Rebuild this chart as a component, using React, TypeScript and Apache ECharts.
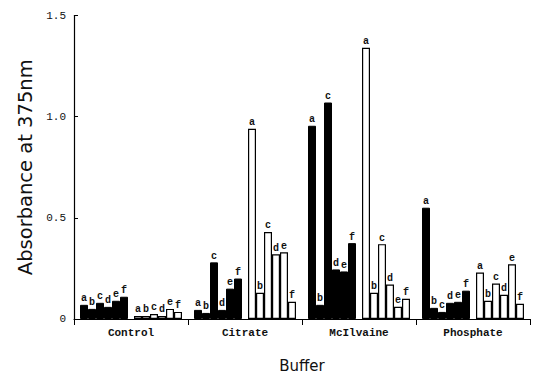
import React, { useEffect, useRef } from "react";
import * as echarts from "echarts";

// Buffers along the x axis and the sample letters a–f inside each buffer
const buffers = ["Control", "Citrate", "McIlvaine", "Phosphate"];
const letters = ["a", "b", "c", "d", "e", "f"];

// Solid (filled) bars, letters a–f
const controlSolid = [0.07, 0.05, 0.08, 0.06, 0.09, 0.11];
const citrateSolid = [0.045, 0.03, 0.28, 0.045, 0.15, 0.2];
const mcilvaineSolid = [0.955, 0.07, 1.07, 0.245, 0.235, 0.375];
const phosphateSolid = [0.55, 0.055, 0.035, 0.08, 0.085, 0.14];

// Open (unfilled) bars, letters a–f
const controlOpen = [0.015, 0.015, 0.025, 0.015, 0.05, 0.035];
const citrateOpen = [0.94, 0.13, 0.43, 0.32, 0.33, 0.085];
const mcilvaineOpen = [1.34, 0.13, 0.37, 0.17, 0.06, 0.1];
const phosphateOpen = [0.23, 0.09, 0.175, 0.12, 0.27, 0.075];

const yTicks = [0, 0.5, 1.0, 1.5];

const solidByBuffer = [controlSolid, citrateSolid, mcilvaineSolid, phosphateSolid];
const openByBuffer = [controlOpen, citrateOpen, mcilvaineOpen, phosphateOpen];

const MONO = "'Liberation Mono', 'DejaVu Sans Mono', monospace";
const SANS = "'DejaVu Sans', 'Open Sans', sans-serif";

function letterLabel(letter: string) {
  return {
    show: true,
    position: "top" as const,
    distance: 1,
    formatter: letter,
    color: "#111",
    fontFamily: MONO,
    fontWeight: "bold" as const,
    fontSize: 10,
  };
}

export default function App() {
  const ref = useRef<HTMLDivElement>(null);

  useEffect(() => {
    if (!ref.current) return;
    const chart = echarts.init(ref.current, undefined, { renderer: "svg" });

    const solidSeries = letters.map((letter, i) => ({
      name: `${letter} solid`,
      type: "bar" as const,
      barWidth: 8,
      barGap: "0%",
      data: solidByBuffer.map((arr) => arr[i]),
      itemStyle: { color: "#000", borderColor: "#000", borderWidth: 1 },
      label: letterLabel(letter),
    }));

    // empty slot separating the solid and open sets within a buffer
    const spacer = {
      name: "spacer",
      type: "bar" as const,
      barWidth: 6,
      barGap: "0%",
      data: buffers.map(() => "-"),
      silent: true,
    };

    const openSeries = letters.map((letter, i) => ({
      name: `${letter} open`,
      type: "bar" as const,
      barWidth: 8,
      barGap: "0%",
      data: openByBuffer.map((arr) => arr[i]),
      itemStyle: { color: "#fff", borderColor: "#000", borderWidth: 1.2 },
      label: letterLabel(letter),
    }));

    chart.setOption({
      animation: false,
      backgroundColor: "#fff",
      grid: { left: 74, right: 3, top: 15.5, bottom: 58, outerBoundsMode: "none" },
      xAxis: {
        type: "category",
        data: buffers,
        boundaryGap: true,
        name: "Buffer",
        nameLocation: "middle",
        nameGap: 39,
        nameTextStyle: { fontFamily: SANS, fontSize: 15, color: "#111" },
        axisLine: { lineStyle: { color: "#000", width: 1.2 } },
        axisTick: { show: true, length: 6, lineStyle: { color: "#000" } },
        axisLabel: {
          margin: 8,
          fontFamily: MONO,
          fontWeight: "bold",
          fontSize: 11,
          color: "#111",
        },
      },
      yAxis: {
        type: "value",
        min: 0,
        max: yTicks[yTicks.length - 1],
        interval: 0.5,
        name: "Absorbance at 375nm",
        nameLocation: "middle",
        nameGap: 38,
        nameRotate: 90,
        nameTextStyle: { fontFamily: SANS, fontSize: 19.5, color: "#111" },
        axisLine: { show: true, lineStyle: { color: "#000", width: 1.2 } },
        axisTick: { show: true, inside: true, length: 4, lineStyle: { color: "#000" } },
        splitLine: { show: false },
        axisLabel: {
          margin: 8,
          fontFamily: MONO,
          fontSize: 11,
          color: "#111",
          formatter: (v: number) => (v === 0 ? "0" : v.toFixed(1)),
        },
      },
      series: [...solidSeries, spacer, ...openSeries],
    });

    return () => chart.dispose();
  }, []);

  return (
    <div
      ref={ref}
      style={{ position: "fixed", left: 0, top: 0, width: 533, height: 377 }}
    />
  );
}
